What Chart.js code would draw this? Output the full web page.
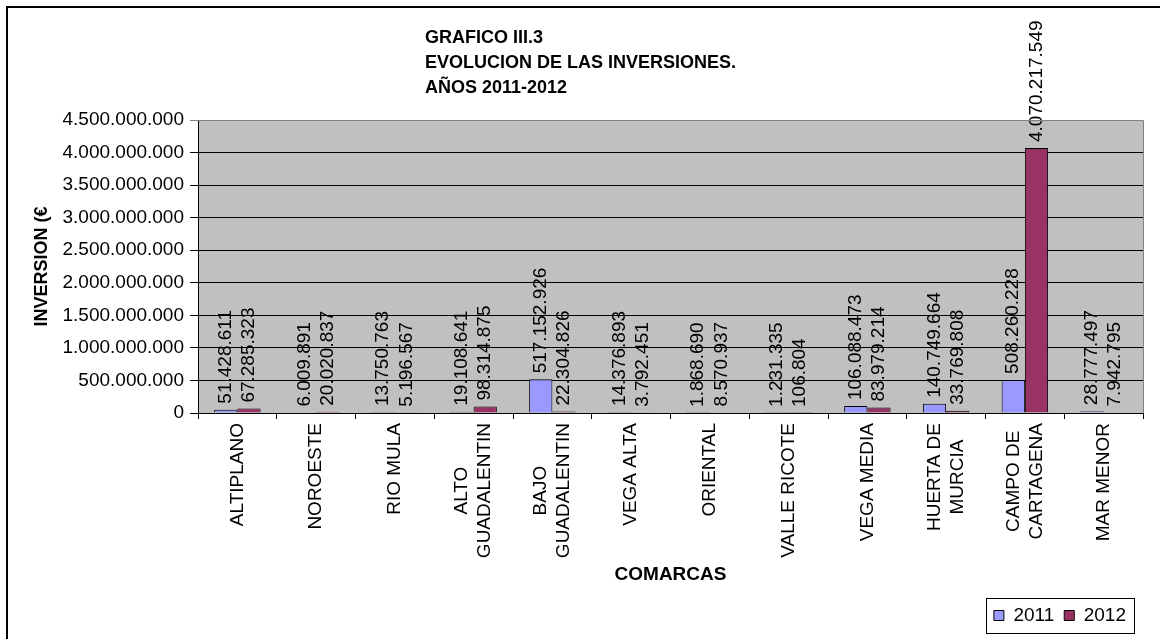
<!DOCTYPE html>
<html>
<head>
<meta charset="utf-8">
<script src="https://cdn.jsdelivr.net/npm/chart.js@4.4.0/dist/chart.umd.min.js"></script>
<style>
  html, body { margin: 0; padding: 0; background: #fff; }
  #wrap { width: 1160px; height: 639px; }
</style>
</head>
<body>
<div id="wrap"><canvas id="myChart" width="1160" height="639"></canvas></div>
<script>
// datos
const comarcas = [
  ['ALTIPLANO'], ['NOROESTE'], ['RIO MULA'], ['ALTO', 'GUADALENTIN'],
  ['BAJO', 'GUADALENTIN'], ['VEGA ALTA'], ['ORIENTAL'], ['VALLE RICOTE'],
  ['VEGA MEDIA'], ['HUERTA DE', 'MURCIA'], ['CAMPO DE', 'CARTAGENA'], ['MAR MENOR']
]
const inversion2011 = [51428611, 6009891, 13750763, 19108641, 517152926, 14376893, 1868690, 1231335, 106088473, 140749664, 508260228, 28777497]
const inversion2012 = [67285323, 20020837, 5196567, 98314875, 22304826, 3792451, 8570937, 106804, 83979214, 33769808, 4070217549, 7942795]
const yTicks = [0, 500000000, 1000000000, 1500000000, 2000000000, 2500000000, 3000000000, 3500000000, 4000000000, 4500000000]
const titleLines = ['GRAFICO III.3', 'EVOLUCION DE LAS INVERSIONES.', 'AÑOS 2011-2012']

const FONT = "'Liberation Sans', Arial, sans-serif"

const fmt = (v) => String(v).replace(/\B(?=(\d{3})+(?!\d))/g, '.')

const ctx = document.querySelector('#myChart').getContext('2d')

const plugin = {
  id: 'excelLook',
  afterLayout: (chart) => {
    // la leyenda va un poco mas a la izquierda
    chart.legend.left -= 7
    chart.legend.right -= 7
  },
  beforeDraw: (chart) => {
    const { ctx, chartArea } = chart
    ctx.save()
    ctx.fillStyle = '#ffffff'
    ctx.fillRect(0, 0, chart.width, chart.height)
    ctx.fillStyle = '#c0c0c0'
    ctx.fillRect(chartArea.left, chartArea.top, chartArea.right - chartArea.left, chartArea.bottom - chartArea.top)
    ctx.restore()
  },
  afterDatasetsDraw: (chart) => {
    const { ctx } = chart
    ctx.save()
    ctx.fillStyle = '#000'
    ctx.font = '19px ' + FONT
    ctx.textAlign = 'left'
    ctx.textBaseline = 'middle'
    chart.data.datasets.forEach((ds, i) => {
      const meta = chart.getDatasetMeta(i)
      meta.data.forEach((bar, j) => {
        ctx.save()
        ctx.translate(bar.x, bar.y - 6)
        ctx.rotate(-Math.PI / 2)
        ctx.fillText(fmt(ds.data[j]), 0, 0)
        ctx.restore()
      })
    })
    ctx.restore()
  },
  afterDraw: (chart) => {
    const { ctx, chartArea, legend } = chart
    const xScale = chart.scales.x
    ctx.save()
    // marco del area de trazado (arriba y derecha en gris)
    ctx.strokeStyle = '#808080'
    ctx.lineWidth = 1
    ctx.beginPath()
    ctx.moveTo(chartArea.left, chartArea.top + 0.5)
    ctx.lineTo(chartArea.right + 0.5, chartArea.top + 0.5)
    ctx.lineTo(chartArea.right + 0.5, chartArea.bottom)
    ctx.stroke()

    // etiquetas de las comarcas, giradas y centradas linea a linea
    ctx.fillStyle = '#000'
    ctx.font = '19px ' + FONT
    ctx.textAlign = 'center'
    ctx.textBaseline = 'middle'
    const lh = 23
    comarcas.forEach((lines, i) => {
      const cx = xScale.getPixelForTick(i)
      const maxLen = Math.max(...lines.map(l => ctx.measureText(l).width))
      const cy = chartArea.bottom + 10 + maxLen / 2
      lines.forEach((line, k) => {
        ctx.save()
        ctx.translate(cx - (lines.length - 1) * lh / 2 + k * lh, cy)
        ctx.rotate(-Math.PI / 2)
        ctx.fillText(line, 0, 0)
        ctx.restore()
      })
    })

    // borde exterior del grafico
    ctx.strokeStyle = '#000'
    ctx.lineWidth = 2
    ctx.beginPath()
    ctx.moveTo(7, chart.height)
    ctx.lineTo(7, 7)
    ctx.lineTo(chart.width, 7)
    ctx.stroke()

    // recuadro de la leyenda
    const boxes = legend.legendHitBoxes
    if (boxes && boxes.length) {
      const x0 = Math.min(...boxes.map(b => b.left)) - 8
      const x1 = Math.max(...boxes.map(b => b.left + b.width)) + 8
      const y0 = Math.min(...boxes.map(b => b.top)) - 8
      const y1 = Math.max(...boxes.map(b => b.top + b.height)) + 8
      ctx.strokeStyle = '#000'
      ctx.lineWidth = 1
      ctx.strokeRect(Math.round(x0) + 0.5, Math.round(y0) + 0.5, Math.round(x1 - x0), Math.round(y1 - y0))
    }

    // titulo
    ctx.fillStyle = '#000'
    ctx.font = 'bold 18px ' + FONT
    ctx.textAlign = 'left'
    ctx.textBaseline = 'middle'
    titleLines.forEach((line, i) => {
      ctx.fillText(line, 425, 38 + i * 25)
    })
    ctx.restore()
  }
}

const data = {
  labels: comarcas,
  datasets: [{
    label: '2011',
    data: inversion2011,
    backgroundColor: '#9999ff',
    borderColor: '#000',
    borderWidth: 1,
    categoryPercentage: 0.59,
    barPercentage: 1
  },
  {
    label: '2012',
    data: inversion2012,
    backgroundColor: '#993366',
    borderColor: '#000',
    borderWidth: 1,
    categoryPercentage: 0.59,
    barPercentage: 1
  }]
}

const config = {
  type: 'bar',
  data: data,
  plugins: [plugin],
  options: {
    responsive: false,
    animation: false,
    devicePixelRatio: 1,
    layout: { padding: { left: 22, top: 120, right: 17, bottom: 4 } },
    scales: {
      x: {
        grid: { offset: true, drawOnChartArea: false, drawTicks: true, tickLength: 6, color: '#000' },
        border: { display: true, color: '#000' },
        ticks: { display: false },
        title: {
          display: true, text: 'COMARCAS', color: '#000',
          font: { family: FONT, size: 19, weight: 'bold' }, padding: { top: 0, bottom: 10 }
        },
        afterFit: (scale) => { scale.height = 183 }
      },
      y: {
        min: 0,
        max: 4500000000,
        afterBuildTicks: (scale) => { scale.ticks = yTicks.map(v => ({ value: v })) },
        grid: {
          color: (c) => (c.tick && c.tick.value === 4500000000) ? '#808080' : '#000',
          tickLength: 8, drawTicks: true
        },
        border: { display: true, color: '#000' },
        ticks: {
          padding: 6, color: '#000', font: { family: FONT, size: 19 },
          callback: (value) => fmt(value)
        },
        title: {
          display: true, text: 'INVERSION (€', color: '#000',
          font: { family: FONT, size: 18, weight: 'bold' }, padding: { top: 9, bottom: 0 }
        },
        afterFit: (scale) => { scale.width = 198 - 22 }
      }
    },
    plugins: {
      legend: {
        position: 'bottom',
        align: 'end',
        labels: {
          color: '#000', font: { family: FONT, size: 19 },
          boxWidth: 10, boxHeight: 10, padding: 10
        }
      },
      tooltip: { enabled: false }
    }
  }
}

const myChart = new Chart(ctx, config)
</script>
</body>
</html>
